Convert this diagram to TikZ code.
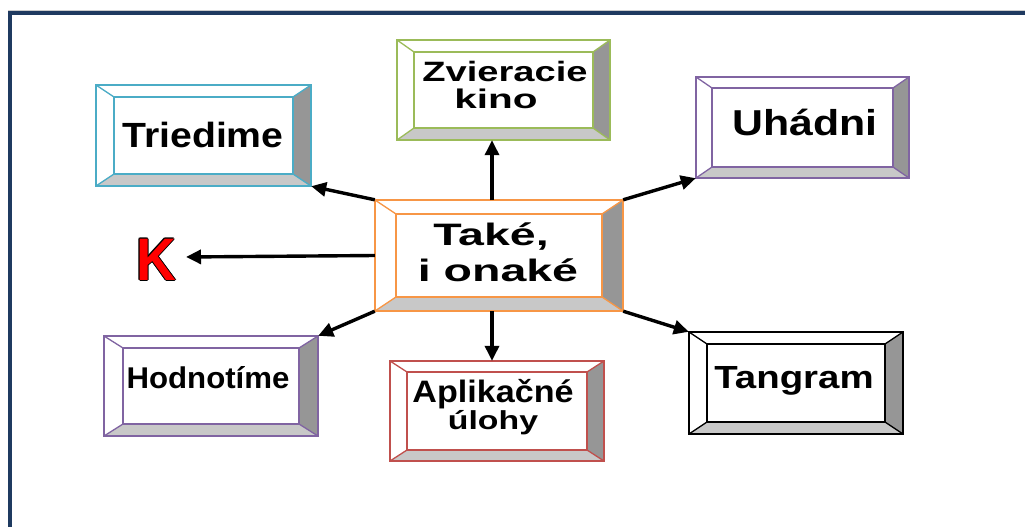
\documentclass[tikz,border=0pt]{standalone}
\usepackage{fontspec}
\setmainfont{Liberation Sans}
\usetikzlibrary{arrows.meta,fit}
\definecolor{navy}{RGB}{31,58,96}
\definecolor{cblue}{RGB}{75,172,198}
\definecolor{cgreen}{RGB}{155,187,89}
\definecolor{cpurple}{RGB}{128,100,162}
\definecolor{corange}{RGB}{247,150,70}
\definecolor{cred}{RGB}{192,80,77}
\definecolor{bevB}{RGB}{200,200,200}
\definecolor{bevR}{RGB}{150,150,150}
\definecolor{kred}{RGB}{255,0,0}
\tikzset{
  boxline/.style={line width=1.3pt},
  arr/.style={line width=3.4pt,-{Triangle[length=15pt,width=14pt]}},
  lbl/.style={anchor=base,inner sep=0pt,align=center},
}
\newcommand\bevbox[8]{%
  \node[fit={(#3,#4) (#5,#6)},inner sep=0pt] (#1) {};
  \fill[white] (#3,#4) rectangle (#5,#6);
  \fill[bevB] (#3,#6) -- (#5,#6) -- ({#5-#7},{#6-#8}) -- ({#3+#7},{#6-#8}) -- cycle;
  \fill[bevR] (#5,#4) -- (#5,#6) -- ({#5-#7},{#6-#8}) -- ({#5-#7},{#4+#8}) -- cycle;
  \draw[#2,boxline] (#3,#4) rectangle (#5,#6);
  \draw[#2,boxline] ({#3+#7},{#4+#8}) rectangle ({#5-#7},{#6-#8});
  \draw[#2,boxline] (#3,#4) -- ({#3+#7},{#4+#8});
  \draw[#2,boxline] (#5,#4) -- ({#5-#7},{#4+#8});
  \draw[#2,boxline] (#3,#6) -- ({#3+#7},{#6-#8});
  \draw[#2,boxline] (#5,#6) -- ({#5-#7},{#6-#8});
}
\newcommand\fs[2]{\fontsize{#1}{#2}\selectfont}
\begin{document}
\begin{tikzpicture}[x=1pt,y=-1pt]
\useasboundingbox (0,0) rectangle (1025,527);
% frame
\draw[navy,line width=4pt] (10,527) -- (10,13) -- (1025,13);
\draw[gray!40,line width=0.8pt] (8,10.5) -- (1025,10.5);
% boxes
\bevbox{tri}{cblue}{96}{85}{311}{186}{18}{12}
\bevbox{zv}{cgreen}{397}{40}{610}{140}{17}{12}
\bevbox{uh}{cpurple}{696}{77}{909}{178}{16}{11}
\bevbox{cen}{corange}{375}{200}{623}{311}{21}{14}
\bevbox{hod}{cpurple}{104}{336}{318}{436}{19}{12}
\bevbox{ap}{cred}{390}{361}{604}{461}{17}{11}
\bevbox{tan}{black}{689}{332}{903}{434}{18}{12}
% labels
\node[lbl,font=\bfseries\fs{35}{35}] (ttri) at (203,147) {\scalebox{1.12}[1]{Triedime}};
\node[lbl,font=\bfseries\fs{28}{27}] (tzv) at (505,108) {\scalebox{1.36}[1]{Zvieracie}\\\hspace*{-18pt}{\fontsize{27}{27}\selectfont\scalebox{1.5}[1]{kino}}};
\node[lbl,font=\bfseries\fs{36}{36}] (tuh) at (805,135) {\scalebox{1.19}[1]{Uhádni}};
\node[lbl,font=\bfseries\fs{31}{36}] (tcen) at (491,281) {\scalebox{1.5}[1]{Také,}\\\hspace*{14pt}\scalebox{1.5}[1]{i onaké}};
\node[lbl,font=\bfseries\fs{30}{30}] (thod) at (208,388) {\scalebox{1.04}[1]{Hodnotíme}};
\node[lbl,font=\bfseries\fs{31}{24}] (tap) at (493,429) {\scalebox{1.1}[1]{Aplikačné}\\{\fontsize{26}{24}\selectfont\scalebox{1.3}[1]{úlohy}}};
\node[lbl,font=\bfseries\fs{32}{32}] (ttan) at (794,388) {\scalebox{1.2}[1]{Tangram}};
% K
\foreach \dx/\dy in {-1/0,1/0,0/-1,0/1,-0.7/-0.7,0.7/0.7,-0.7/0.7,0.7/-0.7}
  \node[lbl,text=black,font=\bfseries\fs{60}{60}] at ({156+\dx},{280+\dy}) {\scalebox{0.92}[1]{K}};
\node[lbl,text=kred,font=\bfseries\fs{60}{60}] (k) at (156,280) {\scalebox{0.92}[1]{K}};
% arrows
\coordinate (upS) at (492,200);
\coordinate (dnS) at (492,311);
\coordinate (kE) at (186,257);
\draw[arr] (cen.north west) -- (tri.south east);
\draw[arr] (upS) -- (upS |- zv.south);
\draw[arr] (cen.north east) -- (uh.south west);
\draw[arr] (cen.west) -- (kE);
\draw[arr] (cen.south west) -- (hod.north east);
\draw[arr] (dnS) -- (dnS |- ap.north);
\draw[arr] (cen.south east) -- (tan.north west);
\end{tikzpicture}
\end{document}
